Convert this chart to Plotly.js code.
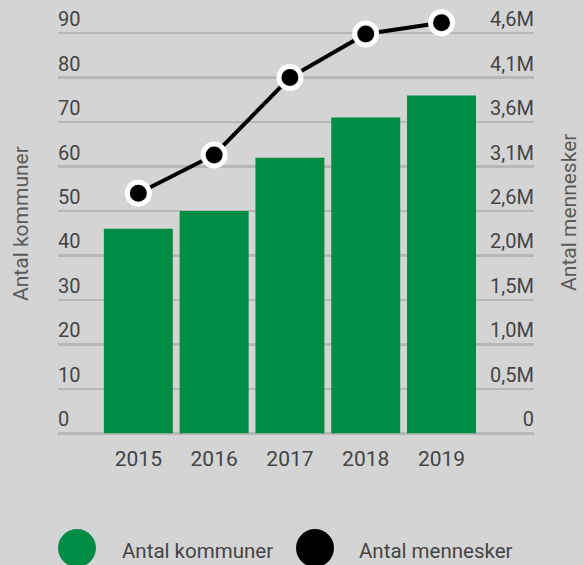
<!DOCTYPE html>
<html>
<head>
<meta charset="utf-8">
<script src="https://cdn.plot.ly/plotly-3.0.1.min.js"></script>
<style>html,body{margin:0;padding:0;background:#d4d4d4;}#chart{width:584px;height:565px;}</style>
</head>
<body>
<div id="chart"></div>
<script>
// ---- data ----
const years = ['2015', '2016', '2017', '2018', '2019'];
const kommuner = [46, 50, 62, 71, 76];
const mennesker = [2760000, 3200000, 4090000, 4590000, 4720000];
const seriesNames = ['Antal kommuner', 'Antal mennesker'];
const leftTicks = [0, 10, 20, 30, 40, 50, 60, 70, 80, 90];
const rightTickText = ['0', '0,5M', '1,0M', '1,5M', '2,0M', '2,6M', '3,1M', '3,6M', '4,1M', '4,6M'];
const rightMax = 4600000;

// ---- styles ----
const green = '#008c45';
const bg = '#d4d4d4';
const gridColor = '#b7b7b7';
const tickColor = '#444444';
const font = 'Roboto, "Open Sans", sans-serif';

const rightTickVals = rightTickText.map((_, i) => i * rightMax / (rightTickText.length - 1));

// axis range padding so the edge gridlines, labels and the top marker are drawn
const yLo = -1.5, yHi = 97;
const k = rightMax / 90;

const traces = [
  {
    type: 'bar', x: years, y: kommuner, name: seriesNames[0],
    marker: {color: green}, width: 0.91, yaxis: 'y', hoverinfo: 'skip'
  },
  {
    type: 'scatter', mode: 'lines+markers', x: years, y: mennesker, name: seriesNames[1],
    yaxis: 'y2', cliponaxis: false,
    line: {color: '#000', width: 4},
    marker: {color: '#000', size: 22, line: {color: '#fff', width: 5}}
  }
];

const pxPerUnit = 400 / 90;
const T = 33.3 - (yHi - 90) * pxPerUnit;
const Bpx = 433.3 + (0 - yLo) * pxPerUnit;
const L = 58, R = 50, B = 565 - Bpx;
const W = 584 - L - R, H = Bpx - T;
const px = x => (x - L) / W;
const py = y => (Bpx - y) / H;

const tickFont = {family: font, size: 20, color: tickColor};

const layout = {
  width: 584, height: 565,
  margin: {l: L, r: R, t: T, b: B, pad: 0},
  paper_bgcolor: bg, plot_bgcolor: bg,
  showlegend: false,
  font: {family: font, color: tickColor, size: 20},
  xaxis: {
    type: 'category', range: [-1.06, 5.22],
    showgrid: false, zeroline: false, showline: false, ticks: '',
    ticklabelstandoff: 4,
    tickfont: {family: font, size: 21, color: tickColor}
  },
  yaxis: {
    range: [yLo, yHi], tickvals: leftTicks,
    showgrid: true, gridcolor: gridColor, gridwidth: 2.5,
    zeroline: false, showline: false, ticks: '',
    ticklabelposition: 'inside', ticklabelshift: -14, ticklabelstandoff: -3,
    tickfont: tickFont
  },
  yaxis2: {
    overlaying: 'y', side: 'right', range: [yLo * k, yHi * k],
    tickvals: rightTickVals, ticktext: rightTickText,
    showgrid: false, zeroline: false, showline: false, ticks: '',
    ticklabelposition: 'inside', ticklabelshift: -14, ticklabelstandoff: -3,
    tickfont: tickFont
  },
  annotations: [
    {text: seriesNames[0], xref: 'paper', yref: 'paper', x: px(21), y: py(224),
     textangle: -90, showarrow: false, xanchor: 'center', yanchor: 'middle',
     font: {family: font, size: 21, color: '#5a5a5a'}},
    {text: seriesNames[1], xref: 'paper', yref: 'paper', x: px(569), y: py(213),
     textangle: -90, showarrow: false, xanchor: 'center', yanchor: 'middle',
     font: {family: font, size: 21, color: '#5a5a5a'}},
    {text: seriesNames[0], xref: 'paper', yref: 'paper', x: px(120), y: py(551),
     showarrow: false, xanchor: 'left', yanchor: 'middle',
     font: {family: font, size: 20.5, color: tickColor}},
    {text: seriesNames[1], xref: 'paper', yref: 'paper', x: px(357), y: py(551),
     showarrow: false, xanchor: 'left', yanchor: 'middle',
     font: {family: font, size: 20.5, color: tickColor}}
  ],
  shapes: [
    {type: 'circle', xref: 'paper', yref: 'paper', xsizemode: 'pixel', ysizemode: 'pixel',
     xanchor: px(77), yanchor: py(548), x0: -19, x1: 19, y0: -19, y1: 19,
     fillcolor: green, line: {width: 0}},
    {type: 'circle', xref: 'paper', yref: 'paper', xsizemode: 'pixel', ysizemode: 'pixel',
     xanchor: px(315), yanchor: py(548), x0: -19, x1: 19, y0: -19, y1: 19,
     fillcolor: '#000', line: {width: 0}}
  ]
};

Plotly.newPlot('chart', traces, layout, {displayModeBar: false, staticPlot: true});
</script>
</body>
</html>
